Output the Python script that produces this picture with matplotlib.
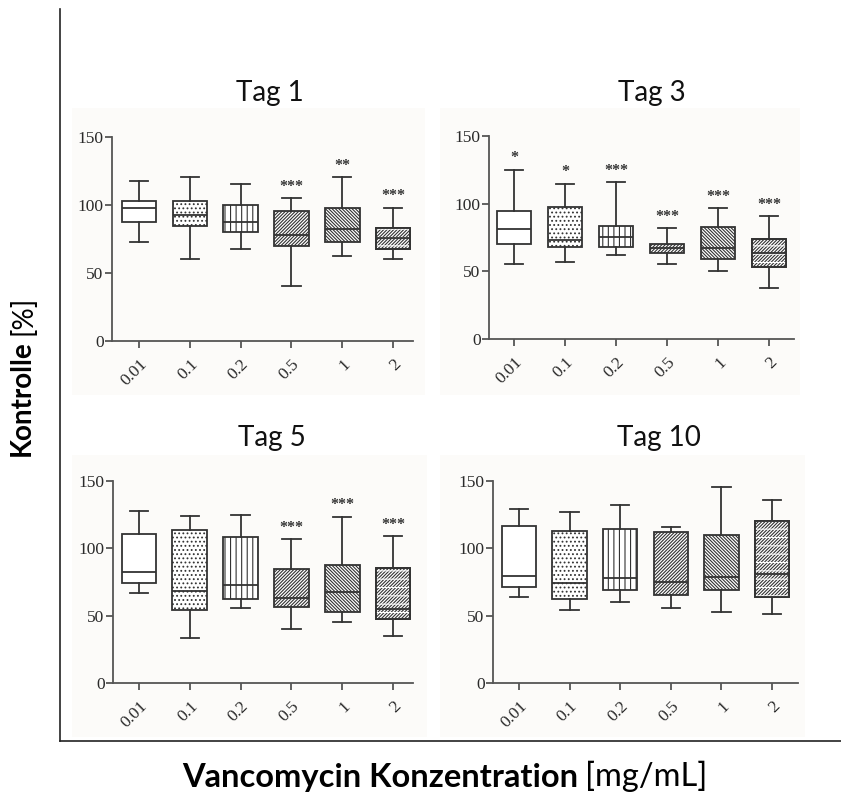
import matplotlib.pyplot as plt
from matplotlib.patches import Rectangle, PathPatch
from matplotlib.lines import Line2D

plt.rcParams['hatch.linewidth'] = 0.8

W, H = 841, 800

concentrations = ['0.01', '0.1', '0.2', '0.5', '1', '2']
tags = ['Tag 1', 'Tag 3', 'Tag 5', 'Tag 10']

# whisker low, Q1, median, Q3, whisker high  (Kontrolle in %)
tag1_low = [72.8, 60.2, 67.6, 40.3, 62.7, 60.2]
tag1_q1 = [87.8, 84.8, 80.2, 69.8, 72.5, 67.6]
tag1_med = [97.6, 92.7, 87.8, 77.7, 82.6, 76.0]
tag1_q3 = [103.0, 103.0, 100.3, 95.4, 97.6, 82.9]
tag1_high = [117.8, 120.5, 115.3, 105.2, 120.5, 97.9]
tag1_sig = ['', '', '', '***', '**', '***']

tag3_low = [55.6, 56.6, 62.2, 55.6, 49.9, 37.4]
tag3_q1 = [70.3, 68.1, 67.9, 63.2, 58.8, 53.4]
tag3_med = [81.1, 73.0, 75.7, 66.9, 67.4, 63.4]
tag3_q3 = [94.7, 97.6, 83.8, 70.3, 82.9, 74.0]
tag3_high = [125.2, 114.8, 116.0, 81.9, 96.6, 90.7]
tag3_sig = ['*', '*', '***', '***', '***', '***']

tag5_low = [66.6, 33.1, 55.8, 40.2, 45.4, 34.8]
tag5_q1 = [74.0, 54.5, 62.7, 56.5, 52.6, 47.4]
tag5_med = [82.2, 68.1, 72.8, 63.4, 67.9, 55.3]
tag5_q3 = [110.5, 113.5, 108.6, 84.9, 87.3, 85.4]
tag5_high = [127.6, 124.1, 124.4, 106.8, 123.6, 109.1]
tag5_sig = ['', '', '', '***', '***', '***']

tag10_low = [63.9, 54.0, 60.2, 55.8, 53.0, 51.6]
tag10_q1 = [71.3, 62.7, 68.8, 65.4, 69.1, 64.1]
tag10_med = [79.7, 74.0, 77.9, 74.8, 78.5, 80.9]
tag10_q3 = [116.7, 112.8, 114.2, 112.5, 110.0, 120.2]
tag10_high = [129.3, 127.1, 132.5, 116.2, 145.8, 135.7]
tag10_sig = ['', '', '', '', '', '']

panels = [
    (tag1_low, tag1_q1, tag1_med, tag1_q3, tag1_high, tag1_sig),
    (tag3_low, tag3_q1, tag3_med, tag3_q3, tag3_high, tag3_sig),
    (tag5_low, tag5_q1, tag5_med, tag5_q3, tag5_high, tag5_sig),
    (tag10_low, tag10_q1, tag10_med, tag10_q3, tag10_high, tag10_sig),
]

# pixel boxes of the axes (left, right, top, bottom) and x limits
ax_px = [(112, 413, 137, 341), (489, 794, 136, 339),
         (113, 413, 481, 683), (493, 798, 481, 683)]
xlims = [(0.47, 6.39), (0.51, 6.49), (0.49, 6.39), (0.49, 6.51)]
bg_px = [(72, 425, 108, 395), (440, 800, 108, 395),
         (72, 427, 455, 737), (440, 805, 455, 737)]
title_pos = [(270, 93), (652, 93), (272, 438), (659, 438)]
hatches = ['', '....', '|||', '/' * 10, '\\' * 10, '/' * 10]

line_col = '#333333'
axis_col = '#555555'

fig = plt.figure(figsize=(W / 100, H / 100), dpi=100)
fig.patch.set_facecolor('white')

for (l, r, t, b) in bg_px:
    fig.patches.append(Rectangle((l / W, 1 - b / H), (r - l) / W, (b - t) / H,
                                 transform=fig.transFigure, facecolor='#fcfbf9',
                                 edgecolor='none', zorder=-5))

for i, (low, q1, med, q3, high, sig) in enumerate(panels):
    l, r, t, b = ax_px[i]
    ax = fig.add_axes([l / W, 1 - b / H, (r - l) / W, (b - t) / H])
    ax.set_facecolor('none')
    stats = []
    for j in range(len(concentrations)):
        stats.append(dict(whislo=low[j], q1=q1[j], med=med[j], q3=q3[j],
                          whishi=high[j], fliers=[]))
    pos = list(range(1, len(concentrations) + 1))
    bp = ax.bxp(stats, positions=pos, widths=0.68, capwidths=0.36,
                patch_artist=True, showfliers=False,
                boxprops=dict(facecolor='white', edgecolor=line_col, linewidth=1.3),
                medianprops=dict(color=line_col, linewidth=1.3),
                whiskerprops=dict(color=line_col, linewidth=1.3),
                capprops=dict(color=line_col, linewidth=1.3))
    for patch, h in zip(bp['boxes'], hatches):
        patch.set_hatch(h)
    # brick look of the last pattern: white horizontal gaps over the slashes
    last = bp['boxes'][-1]
    ax.add_patch(PathPatch(last.get_path(), transform=last.get_transform(),
                           facecolor='none', edgecolor='white', lw=0,
                           hatch='--', zorder=2.01))
    ax.add_patch(PathPatch(last.get_path(), transform=last.get_transform(),
                           facecolor='none', edgecolor=line_col, lw=1.3,
                           zorder=2.02))
    for j, s in enumerate(sig):
        if s:
            ax.text(pos[j], high[j] + 2.5, s, ha='center', va='bottom',
                    fontsize=11.5, family='Liberation Serif', fontweight='bold',
                    color='#333333', clip_on=False)

    ax.set_xlim(*xlims[i])
    ax.set_ylim(0, 150)
    ax.set_yticks([0, 50, 100, 150])
    ax.set_xticks(pos)
    ax.set_xticklabels(concentrations, rotation=45, ha='right',
                       rotation_mode='anchor')
    ax.tick_params(direction='out', length=5, width=1.3, color=axis_col,
                   labelcolor='#2a2a2a', labelfontfamily='Liberation Serif')
    ax.tick_params(axis='y', labelsize=12.5, pad=1)
    ax.tick_params(axis='x', labelsize=12.5, pad=6)
    for sp in ['top', 'right']:
        ax.spines[sp].set_visible(False)
    for sp in ['left', 'bottom']:
        ax.spines[sp].set_color(axis_col)
        ax.spines[sp].set_linewidth(1.3)

    tx, ty = title_pos[i]
    fig.text(tx / W, 1 - ty / H, tags[i], ha='center', va='center',
             fontsize=20, family='Lato', color='#111111')

# outer frame lines
fig.lines.append(Line2D([60 / W, 60 / W], [1 - 9 / H, 1 - 741 / H],
                        transform=fig.transFigure, color='#222222', lw=1.2))
fig.lines.append(Line2D([60 / W, 1.0], [1 - 741 / H, 1 - 741 / H],
                        transform=fig.transFigure, color='#222222', lw=1.2))

# axis labels: bold part + regular part
ax0 = fig.axes[0]
yl = fig.text(22 / W, 1 - 398 / H, 'Kontrolle', rotation=90, ha='center',
              va='center', fontsize=20, fontweight='bold', family='Lato')
ax0.annotate('[%]', xy=(0, 1), xycoords=yl, xytext=(0, 5),
             textcoords='offset pixels', rotation=90, ha='left',
             va='bottom', fontsize=20, family='Lato', annotation_clip=False)

xl = fig.text(578 / W, 1 - 777 / H, 'Vancomycin Konzentration', ha='right',
              va='center', fontsize=23.5, fontweight='bold', family='Lato')
ax0.annotate('[mg/mL]', xy=(1, 0), xycoords=xl, xytext=(7, 0),
             textcoords='offset pixels', ha='left', va='bottom',
             fontsize=23.5, family='Lato', annotation_clip=False)

fig.savefig('out.png', dpi=100)
